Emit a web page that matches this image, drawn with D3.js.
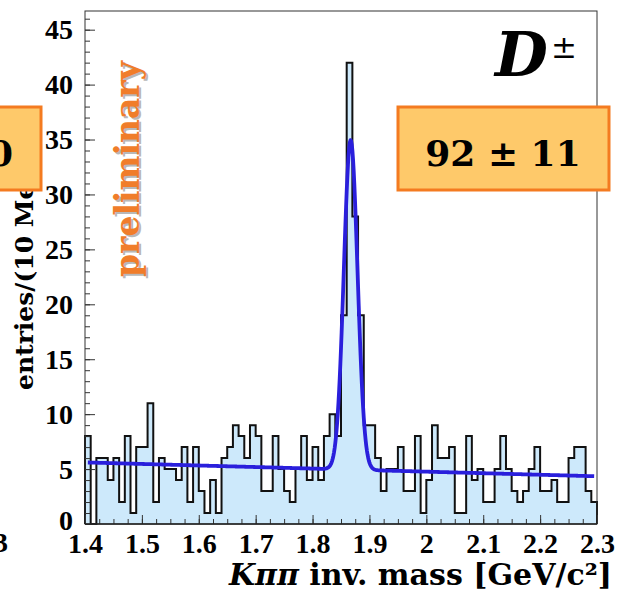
<!DOCTYPE html>
<html>
<head>
<meta charset="utf-8">
<script src="https://cdn.jsdelivr.net/npm/d3@7"></script>
<style>
  body { margin: 0; background: #fff; }
  svg { display: block; }
</style>
</head>
<body>
<div id="chart"></div>
<script>
'use strict';

/* Data */

var binLow = 1.40;
var binWidth = 0.01;
var counts = [ 8, 0, 6, 6, 4, 6, 2, 8, 1, 7,
               7,11, 2, 6, 5, 5, 4, 7, 2, 7,
               3, 1, 4, 1, 6, 7, 9, 8, 6, 9,
               8, 3, 3, 8, 5, 3, 2, 5, 8, 4,
               7, 4, 8,10, 8,19,42,28,19, 9,
               9, 6, 3, 5, 5, 7, 3, 3, 8, 1,
               4, 9, 6, 6, 7, 1, 1, 8, 4, 5,
               2, 2, 5, 8, 5, 3, 2, 3, 5, 7,
               3, 3, 4, 2, 2, 6, 7, 7, 3, 2 ];

var xTicks = [1.4, 1.5, 1.6, 1.7, 1.8, 1.9, 2.0, 2.1, 2.2, 2.3];
var xTickLabels = ['1.4', '1.5', '1.6', '1.7', '1.8', '1.9', '2', '2.1', '2.2', '2.3'];
var yTicks = [0, 5, 10, 15, 20, 25, 30, 35, 40, 45];

// fit: linear background (value at each end of range) + gaussian [height, mean, sigma]
var fitRange = [1.405, 2.295];
var fitBackground = [5.6, 4.35];
var fitGauss = [30, 1.867, 0.012];

var yieldText = '92 \u00b1 11';

var w = 617;
var h = 592;

var plot = { left: 85, right: 597, top: 11, bottom: 524 };

var x = d3.scaleLinear().domain([1.4, 2.3]).range([plot.left, plot.right]);
var y = d3.scaleLinear().domain([0, 46.7]).range([plot.bottom, plot.top]);

var svg = d3.select('#chart').append('svg')
  .attr('width', w)
  .attr('height', h);

/* Y title (partly hidden under the left box) */

svg.append('text')
  .text('entries/(10 MeV/c\u00b2)')
  .attr('transform', 'translate(33,390) rotate(-90)')
  .attr('font-family', 'DejaVu Serif')
  .attr('font-weight', 'bold')
  .attr('font-size', '25px')
  .attr('fill', '#000');

/* Histogram */

var pts = [{ x: binLow, v: 0 }];
counts.forEach(function (c, i) { pts.push({ x: binLow + i * binWidth, v: c }); });
pts.push({ x: binLow + counts.length * binWidth, v: counts[counts.length - 1] });
pts.push({ x: binLow + counts.length * binWidth, v: 0 });

svg.append('path')
  .datum(pts)
  .attr('d', d3.area()
    .x(function (d) { return x(d.x); })
    .y0(y(0))
    .y1(function (d) { return y(d.v); })
    .curve(d3.curveStepAfter))
  .style('fill', '#cde9fb')
  .style('stroke', 'none');

svg.append('path')
  .datum(pts)
  .attr('d', d3.line()
    .x(function (d) { return x(d.x); })
    .y(function (d) { return y(d.v); })
    .curve(d3.curveStepAfter))
  .style('fill', 'none')
  .style('stroke', '#111')
  .style('stroke-width', 2);

/* Fit curve */

function fitValue(m) {
  var t = (m - fitRange[0]) / (fitRange[1] - fitRange[0]);
  var bg = fitBackground[0] + t * (fitBackground[1] - fitBackground[0]);
  var z = (m - fitGauss[1]) / fitGauss[2];
  return bg + fitGauss[0] * Math.exp(-0.5 * z * z);
}

var fitPts = d3.range(0, 801).map(function (i) {
  var m = fitRange[0] + i * (fitRange[1] - fitRange[0]) / 800;
  return { x: m, v: fitValue(m) };
});

svg.append('path')
  .datum(fitPts)
  .attr('d', d3.line()
    .x(function (d) { return x(d.x); })
    .y(function (d) { return y(d.v); }))
  .style('fill', 'none')
  .style('stroke', '#2a1fdc')
  .style('stroke-width', 3.8)
  .style('stroke-linejoin', 'round');

/* Frame */

svg.append('rect')
  .attr('x', plot.left)
  .attr('y', plot.top)
  .attr('width', plot.right - plot.left)
  .attr('height', plot.bottom - plot.top)
  .style('fill', 'none')
  .style('stroke', '#333')
  .style('stroke-width', 1);

/* Y axis */

var yMinor = svg.append('g')
  .attr('transform', 'translate(' + plot.left + ',0)')
  .call(d3.axisLeft(y).tickValues(d3.range(0, 47, 1)).tickSizeInner(-5).tickSizeOuter(0).tickFormat(''));

var yMajor = svg.append('g')
  .attr('transform', 'translate(' + plot.left + ',0)')
  .call(d3.axisLeft(y).tickValues(yTicks).tickSizeInner(-10).tickSizeOuter(0).tickPadding(12));

/* X axis */

var xMinor = svg.append('g')
  .attr('transform', 'translate(0,' + plot.bottom + ')')
  .call(d3.axisBottom(x).tickValues(d3.range(0, 37).map(function (i) { return 1.4 + i * 0.025; }))
    .tickSizeInner(-5).tickSizeOuter(0).tickFormat(''));

var xMajor = svg.append('g')
  .attr('transform', 'translate(0,' + plot.bottom + ')')
  .call(d3.axisBottom(x).tickValues(xTicks).tickSizeInner(-9).tickSizeOuter(0).tickPadding(9)
    .tickFormat(function (d, i) { return xTickLabels[i]; }));

[yMinor, yMajor, xMinor, xMajor].forEach(function (g) {
  g.select('.domain').remove();
  g.selectAll('.tick line').style('stroke', '#333').style('stroke-width', 1);
  g.selectAll('.tick text')
    .attr('font-family', 'Liberation Serif')
    .attr('font-weight', 'bold')
    .attr('font-size', '28px')
    .attr('fill', '#000');
});

// zero label sits a little higher, just clear of the x labels
yMajor.selectAll('.tick text').attr('dy', function (d) { return d === 0 ? '0.2em' : '0.32em'; });

svg.append('line')
  .attr('x1', plot.left).attr('x2', plot.right)
  .attr('y1', plot.bottom).attr('y2', plot.bottom)
  .style('stroke', '#222').style('stroke-width', 1.5);

/* X title */

var xt = svg.append('text')
  .attr('x', 612)
  .attr('y', 585)
  .attr('text-anchor', 'end')
  .attr('font-family', 'DejaVu Serif')
  .attr('font-weight', 'bold')
  .attr('font-size', '30px')
  .attr('fill', '#000');
xt.append('tspan').attr('font-style', 'italic').text('K\u03c0\u03c0');
xt.append('tspan').text(' inv. mass [GeV/c\u00b2]');

/* Cut-off label from neighbour panel */

svg.append('text')
  .text('3')
  .attr('x', 8)
  .attr('y', 552)
  .attr('text-anchor', 'end')
  .attr('font-family', 'Liberation Serif')
  .attr('font-weight', 'bold')
  .attr('font-size', '28px');

/* preliminary */

svg.append('text')
  .text('preliminary')
  .attr('transform', 'translate(141,279) rotate(-90)')
  .attr('font-family', 'DejaVu Serif')
  .attr('font-weight', 'bold')
  .attr('font-size', '33px')
  .attr('fill', '#b8b8b8');

svg.append('text')
  .text('preliminary')
  .attr('transform', 'translate(139,277) rotate(-90)')
  .attr('font-family', 'DejaVu Serif')
  .attr('font-weight', 'bold')
  .attr('font-size', '33px')
  .attr('fill', '#f07d2a');

/* D label */

svg.append('text')
  .text('D')
  .attr('x', 495)
  .attr('y', 76)
  .attr('font-family', 'DejaVu Serif')
  .attr('font-weight', 'bold')
  .attr('font-style', 'italic')
  .attr('font-size', '61px')
  .attr('fill', '#000');

svg.append('text')
  .text('\u00b1')
  .attr('x', 551)
  .attr('y', 58)
  .attr('font-family', 'DejaVu Serif')
  .attr('font-size', '31px')
  .attr('fill', '#000');

/* Left box (neighbour panel) */

svg.append('rect')
  .attr('x', -4)
  .attr('y', 107)
  .attr('width', 45)
  .attr('height', 83)
  .style('fill', '#fec96a')
  .style('stroke', '#f47b20')
  .style('stroke-width', 3);

svg.append('text')
  .text('0')
  .attr('x', 13)
  .attr('y', 166)
  .attr('text-anchor', 'end')
  .attr('font-family', 'DejaVu Serif')
  .attr('font-weight', 'bold')
  .attr('font-size', '36px')
  .attr('fill', '#000');

/* Yield box */

svg.append('rect')
  .attr('x', 398)
  .attr('y', 107)
  .attr('width', 211)
  .attr('height', 83)
  .style('fill', '#fec96a')
  .style('stroke', '#f47b20')
  .style('stroke-width', 3);

svg.append('text')
  .text(yieldText)
  .attr('x', 503)
  .attr('y', 166)
  .attr('text-anchor', 'middle')
  .attr('font-family', 'DejaVu Serif')
  .attr('font-weight', 'bold')
  .attr('font-size', '36px')
  .attr('fill', '#000');

</script>
</body>
</html>
